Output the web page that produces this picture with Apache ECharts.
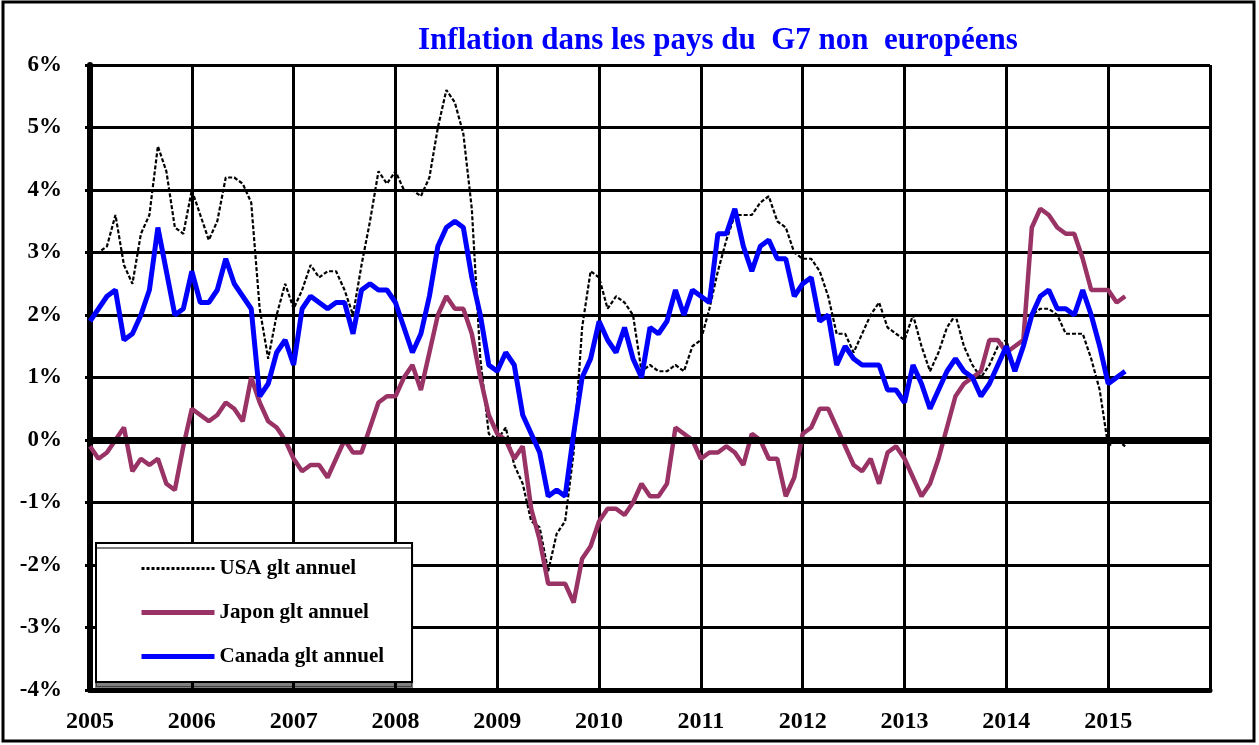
<!DOCTYPE html>
<html>
<head>
<meta charset="utf-8">
<script src="https://cdn.jsdelivr.net/npm/echarts@6/dist/echarts.min.js"></script>
<style>
  html, body { margin: 0; padding: 0; background: #fff; }
  #chart { width: 1259px; height: 745px; }
</style>
</head>
<body>
<div id="chart"></div>
<script>
// glissement annuel mensuel, de janvier 2005 à mars 2015
const startYear = 2005;
const usa = [
  3.0, 3.0, 3.1, 3.6, 2.8, 2.5, 3.3, 3.6, 4.7, 4.3, 3.4, 3.3,
  4.0, 3.6, 3.2, 3.5, 4.2, 4.2, 4.1, 3.8, 2.1, 1.3, 2.0, 2.5,
  2.1, 2.4, 2.8, 2.6, 2.7, 2.7, 2.4, 2.0, 2.8, 3.5, 4.3, 4.1,
  4.3, 4.0, 4.0, 3.9, 4.2, 5.0, 5.6, 5.4, 4.9, 3.7, 1.3, 0.1,
  0.0, 0.2, -0.4, -0.7, -1.3, -1.4, -2.1, -1.5, -1.3, -0.2, 1.8, 2.7,
  2.6, 2.1, 2.3, 2.2, 2.0, 1.1, 1.2, 1.1, 1.1, 1.2, 1.1, 1.5,
  1.6, 2.1, 2.7, 3.2, 3.6, 3.6, 3.6, 3.8, 3.9, 3.5, 3.4, 3.0,
  2.9, 2.9, 2.7, 2.3, 1.7, 1.7, 1.4, 1.7, 2.0, 2.2, 1.8, 1.7,
  1.6, 2.0, 1.5, 1.1, 1.4, 1.8, 2.0, 1.5, 1.2, 1.0, 1.2, 1.5,
  1.6, 1.1, 1.5, 2.0, 2.1, 2.1, 2.0, 1.7, 1.7, 1.7, 1.3, 0.8,
  -0.1, 0.0, -0.1
];
const japon = [
  -0.1, -0.3, -0.2, 0.0, 0.2, -0.5, -0.3, -0.4, -0.3, -0.7, -0.8, -0.1,
  0.5, 0.4, 0.3, 0.4, 0.6, 0.5, 0.3, 1.0, 0.6, 0.3, 0.2, 0.0,
  -0.3, -0.5, -0.4, -0.4, -0.6, -0.3, 0.0, -0.2, -0.2, 0.2, 0.6, 0.7,
  0.7, 1.0, 1.2, 0.8, 1.4, 2.0, 2.3, 2.1, 2.1, 1.7, 1.0, 0.4,
  0.1, 0.0, -0.3, -0.1, -1.1, -1.6, -2.3, -2.3, -2.3, -2.6, -1.9, -1.7,
  -1.3, -1.1, -1.1, -1.2, -1.0, -0.7, -0.9, -0.9, -0.7, 0.2, 0.1, 0.0,
  -0.3, -0.2, -0.2, -0.1, -0.2, -0.4, 0.1, 0.0, -0.3, -0.3, -0.9, -0.6,
  0.1, 0.2, 0.5, 0.5, 0.2, -0.1, -0.4, -0.5, -0.3, -0.7, -0.2, -0.1,
  -0.3, -0.6, -0.9, -0.7, -0.3, 0.2, 0.7, 0.9, 1.0, 1.1, 1.6, 1.6,
  1.4, 1.5, 1.6, 3.4, 3.7, 3.6, 3.4, 3.3, 3.3, 2.9, 2.4, 2.4,
  2.4, 2.2, 2.3
];
const canada = [
  1.9, 2.1, 2.3, 2.4, 1.6, 1.7, 2.0, 2.4, 3.4, 2.7, 2.0, 2.1,
  2.7, 2.2, 2.2, 2.4, 2.9, 2.5, 2.3, 2.1, 0.7, 0.9, 1.4, 1.6,
  1.2, 2.1, 2.3, 2.2, 2.1, 2.2, 2.2, 1.7, 2.4, 2.5, 2.4, 2.4,
  2.2, 1.8, 1.4, 1.7, 2.3, 3.1, 3.4, 3.5, 3.4, 2.6, 2.0, 1.2,
  1.1, 1.4, 1.2, 0.4, 0.1, -0.2, -0.9, -0.8, -0.9, 0.1, 1.0, 1.3,
  1.9, 1.6, 1.4, 1.8, 1.3, 1.0, 1.8, 1.7, 1.9, 2.4, 2.0, 2.4,
  2.3, 2.2, 3.3, 3.3, 3.7, 3.1, 2.7, 3.1, 3.2, 2.9, 2.9, 2.3,
  2.5, 2.6, 1.9, 2.0, 1.2, 1.5, 1.3, 1.2, 1.2, 1.2, 0.8, 0.8,
  0.6, 1.2, 0.9, 0.5, 0.8, 1.1, 1.3, 1.1, 1.0, 0.7, 0.9, 1.2,
  1.5, 1.1, 1.5, 2.0, 2.3, 2.4, 2.1, 2.1, 2.0, 2.4, 2.0, 1.5,
  0.9, 1.0, 1.1
];
const seriesNames = ['USA glt annuel', 'Japon glt annuel', 'Canada glt annuel'];

// mois -> abscisse en années décimales
const toPoints = arr => arr.map((v, i) => [startYear + i / 12, v]);

const chart = echarts.init(document.getElementById('chart'));
const serif = '"Liberation Serif", "DejaVu Serif", serif';

const option = {
  animation: false,
  backgroundColor: '#fff',
  title: {
    text: 'Inflation dans les pays du  G7 non  européens',
    left: 413,
    top: 20,
    textStyle: { color: '#0000ff', fontFamily: serif, fontWeight: 'bold', fontSize: 31 }
  },
  legend: {
    data: [
      { name: seriesNames[0], lineStyle: { width: 3, type: [3, 2], color: '#000' } },
      { name: seriesNames[1], lineStyle: { width: 5, color: '#993366' } },
      { name: seriesNames[2], lineStyle: { width: 5, color: '#0000ff' } }
    ],
    orient: 'vertical',
    left: 96,
    top: 543,
    padding: [15, 28, 15, 43],
    itemWidth: 73,
    itemHeight: 21,
    itemGap: 23,
    backgroundColor: '#fff',
    borderColor: '#000',
    borderWidth: 2,
    shadowColor: 'rgba(0,0,0,0.5)',
    shadowOffsetX: 0,
    shadowOffsetY: 5,
    shadowBlur: 0,
    itemStyle: { opacity: 0, borderWidth: 0 },
    textStyle: { color: '#000', fontFamily: serif, fontWeight: 'bold', fontSize: 21 }
  },
  grid: { left: 90, right: 49, top: 65, bottom: 55, containLabel: false },
  xAxis: {
    type: 'value',
    min: 2005,
    max: 2016,
    interval: 1,
    axisLine: { onZero: false, lineStyle: { color: '#000', width: 5 } },
    axisTick: { show: false },
    splitLine: { show: true, lineStyle: { color: '#000', width: 3 } },
    axisLabel: {
      showMaxLabel: false,
      margin: 20,
      color: '#000',
      fontFamily: serif,
      fontWeight: 'bold',
      fontSize: 24,
      formatter: v => String(v)
    }
  },
  yAxis: {
    type: 'value',
    min: -4,
    max: 6,
    interval: 1,
    axisLine: { show: true, lineStyle: { color: '#000', width: 6 } },
    axisTick: { show: true, length: 5, lineStyle: { color: '#000', width: 3 } },
    splitLine: { show: true, lineStyle: { color: '#000', width: 3 } },
    axisLabel: {
      margin: 28,
      color: '#000',
      fontFamily: serif,
      fontWeight: 'bold',
      fontSize: 23,
      formatter: '{value}%'
    }
  },
  graphic: [{
    type: 'rect',
    shape: { x: 3, y: 2, width: 1251, height: 739 },
    style: { fill: null, stroke: '#000', lineWidth: 3 },
    silent: true
  }],
  series: [
    {
      name: seriesNames[0],
      type: 'line',
      data: toPoints(usa),
      symbol: 'none',
      lineStyle: { color: '#000', width: 2.2, type: [4, 2] },
      itemStyle: { color: '#000' },
      markLine: {
        silent: true,
        symbol: 'none',
        label: { show: false },
        lineStyle: { color: '#000', width: 7, type: 'solid' },
        data: [{ yAxis: 0 }]
      },
      z: 3
    },
    {
      name: seriesNames[1],
      type: 'line',
      data: toPoints(japon),
      symbol: 'none',
      lineStyle: { color: '#993366', width: 4.5 },
      itemStyle: { color: '#993366' },
      z: 4
    },
    {
      name: seriesNames[2],
      type: 'line',
      data: toPoints(canada),
      symbol: 'none',
      lineStyle: { color: '#0000ff', width: 5 },
      itemStyle: { color: '#0000ff' },
      z: 5
    }
  ]
};

chart.setOption(option);
</script>
</body>
</html>
